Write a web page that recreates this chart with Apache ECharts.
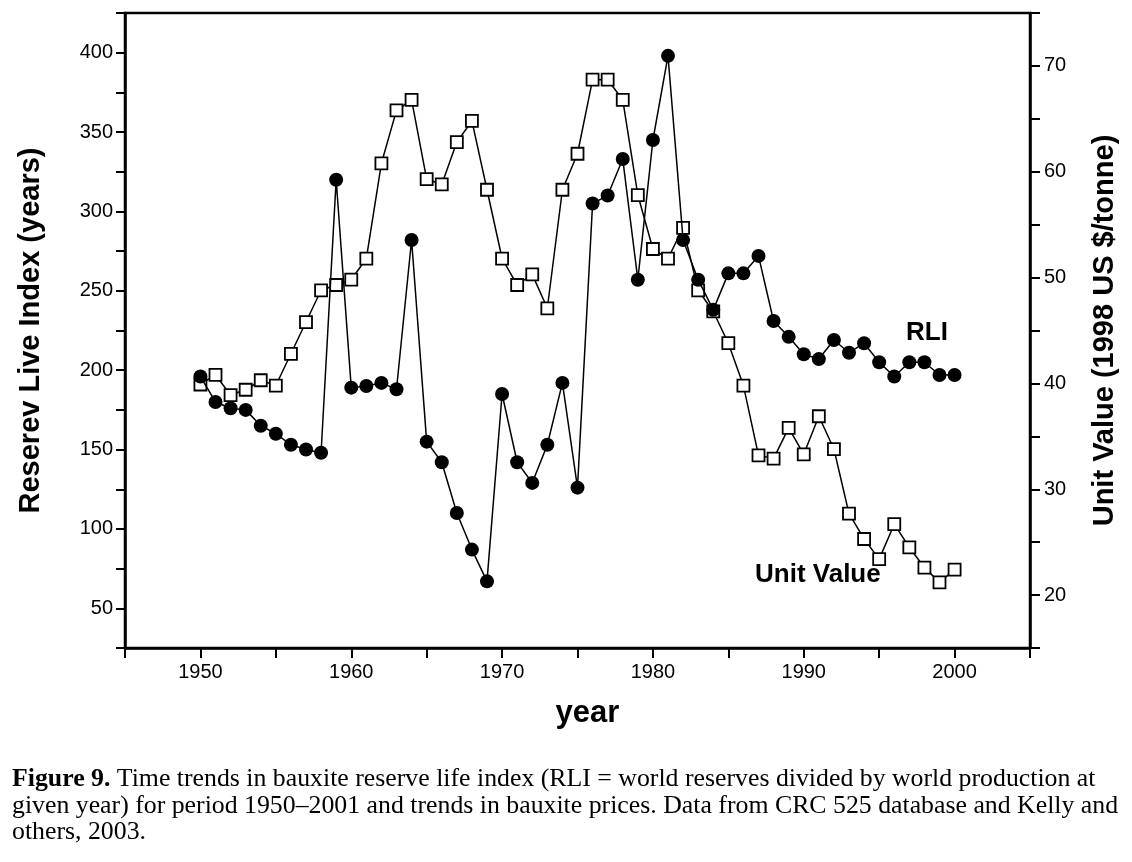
<!DOCTYPE html>
<html>
<head>
<meta charset="utf-8">
<title>Bauxite RLI and unit value</title>
<script src="https://cdn.jsdelivr.net/npm/echarts@6/dist/echarts.min.js"></script>
<style>
  html, body { margin: 0; padding: 0; background: #fff; }
  #chart { width: 1132px; height: 862px; }
</style>
</head>
<body>
<div id="chart"></div>
<script>
// data
let years = [1950, 1951, 1952, 1953, 1954, 1955, 1956, 1957, 1958, 1959,
             1960, 1961, 1962, 1963, 1964, 1965, 1966, 1967, 1968, 1969,
             1970, 1971, 1972, 1973, 1974, 1975, 1976, 1977, 1978, 1979,
             1980, 1981, 1982, 1983, 1984, 1985, 1986, 1987, 1988, 1989,
             1990, 1991, 1992, 1993, 1994, 1995, 1996, 1997, 1998, 1999, 2000];

// Reserve life index (years), left axis
let rli = [196, 180, 176, 175, 165, 160, 153, 150, 148, 320,
           189, 190, 192, 188, 282, 155, 142, 110, 87, 67,
           185, 142, 129, 153, 192, 126, 305, 310, 333, 257,
           345, 398, 282, 257, 238, 261, 261, 272, 231, 221,
           210, 207, 219, 211, 217, 205, 196, 205, 205, 197, 197];

// Unit value (1998 US $/tonne), right axis
let unitValue = [39.9, 40.8, 38.9, 39.4, 40.3, 39.8, 42.8, 45.8, 48.8, 49.3,
                 49.8, 51.8, 60.8, 65.8, 66.8, 59.3, 58.8, 62.8, 64.8, 58.3,
                 51.8, 49.3, 50.3, 47.1, 58.3, 61.7, 68.7, 68.7, 66.8, 57.8,
                 52.7, 51.8, 54.7, 48.8, 46.8, 43.8, 39.8, 33.2, 32.9, 35.8,
                 33.3, 36.9, 33.8, 27.7, 25.3, 23.4, 26.7, 24.5, 22.6, 21.2, 22.4];

let sans = '"Liberation Sans", Arial, sans-serif';
let serif = '"Liberation Serif", "Times New Roman", serif';

function pairs(xs, ys) {
    return xs.map((x, i) => [x, ys[i]]);
}

let ctx = document.getElementById("chart");
let chart = echarts.init(ctx);

let option = {
    animation: false,
    backgroundColor: '#fff',
    grid: {
        left: 125,
        right: 102,
        top: 13,
        bottom: 214,
        show: true,
        borderColor: '#000',
        borderWidth: 2.5
    },
    xAxis: {
        type: 'value',
        min: 1945,
        max: 2005,
        interval: 5,
        name: 'year',
        nameLocation: 'middle',
        nameGap: 50,
        nameTextStyle: {
            fontFamily: sans,
            fontWeight: 'bold',
            fontSize: 31,
            color: '#000',
            padding: [0, 0, 0, 20]
        },
        axisLine: { lineStyle: { color: '#000', width: 2.5 } },
        axisTick: { inside: false, length: 10, lineStyle: { color: '#000', width: 2 } },
        axisLabel: {
            margin: 14,
            fontFamily: sans,
            fontSize: 20,
            color: '#000',
            formatter: v => (v % 10 === 0 && v >= 1950 && v <= 2000) ? String(v) : ''
        },
        splitLine: { show: false }
    },
    yAxis: [{
        type: 'value',
        position: 'left',
        min: 25,
        max: 425,
        interval: 25,
        name: 'Reserev Live Index (years)',
        nameLocation: 'middle',
        nameRotate: 90,
        nameGap: 80,
        nameTextStyle: {
            fontFamily: sans,
            fontWeight: 'bold',
            fontSize: 29,
            color: '#000'
        },
        axisLine: { show: true, lineStyle: { color: '#000', width: 2.5 } },
        axisTick: { inside: false, length: 9, lineStyle: { color: '#000', width: 2 } },
        axisLabel: {
            margin: 12,
            fontFamily: sans,
            fontSize: 20,
            color: '#000',
            formatter: v => (v % 50 === 0 && v >= 50 && v <= 400) ? String(v) : ''
        },
        splitLine: { show: false }
    }, {
        type: 'value',
        position: 'right',
        min: 15,
        max: 75,
        interval: 5,
        name: 'Unit Value (1998 US $/tonne)',
        nameLocation: 'middle',
        nameRotate: 90,
        nameGap: 60,
        nameTextStyle: {
            fontFamily: sans,
            fontWeight: 'bold',
            fontSize: 29,
            color: '#000'
        },
        axisLine: { show: true, lineStyle: { color: '#000', width: 2.5 } },
        axisTick: { inside: false, length: 10, lineStyle: { color: '#000', width: 2 } },
        axisLabel: {
            margin: 14,
            fontFamily: sans,
            fontSize: 20,
            color: '#000',
            formatter: v => (v % 10 === 0 && v >= 20 && v <= 70) ? String(v) : ''
        },
        splitLine: { show: false }
    }],
    series: [{
        name: 'Unit Value',
        type: 'line',
        yAxisIndex: 1,
        data: pairs(years, unitValue),
        symbol: 'rect',
        symbolSize: 12,
        showAllSymbol: true,
        lineStyle: { color: '#000', width: 1.5 },
        itemStyle: { color: '#fff', borderColor: '#000', borderWidth: 1.8 },
        z: 2
    }, {
        name: 'RLI',
        type: 'line',
        yAxisIndex: 0,
        data: pairs(years, rli),
        symbol: 'circle',
        symbolSize: 14,
        showAllSymbol: true,
        lineStyle: { color: '#000', width: 1.5 },
        itemStyle: { color: '#000', borderColor: '#000', borderWidth: 0 },
        z: 3
    }],
    graphic: [{
        type: 'text',
        left: 906,
        top: 320,
        style: { text: 'RLI', font: 'bold 26px ' + sans, fill: '#000' }
    }, {
        type: 'text',
        left: 755,
        top: 562,
        style: { text: 'Unit Value', font: 'bold 26px ' + sans, fill: '#000' }
    }, {
        type: 'text',
        left: 12,
        top: 766,
        style: {
            text: '{b|Figure 9.} Time trends in bauxite reserve life index (RLI = world reserves divided by world production at\n' +
                  'given year) for period 1950–2001 and trends in bauxite prices. Data from CRC 525 database and Kelly and\n' +
                  'others, 2003.',
            fontFamily: serif,
            fontSize: 25.8,
            lineHeight: 26.5,
            fill: '#000',
            rich: {
                b: { fontFamily: serif, fontSize: 25.8, fontWeight: 'bold', lineHeight: 26.5 }
            }
        }
    }]
};

chart.setOption(option, true);

window.onresize = () => {
    chart.resize();
};
</script>
</body>
</html>
